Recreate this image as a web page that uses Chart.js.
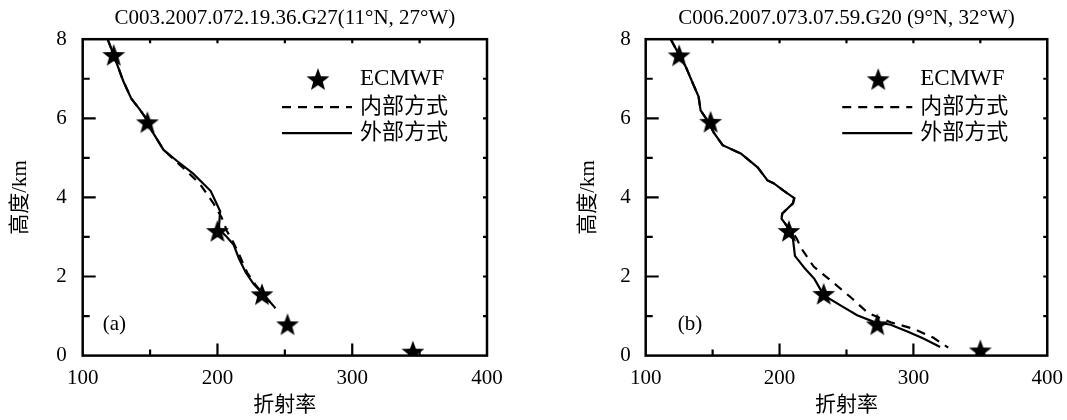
<!DOCTYPE html>
<html>
<head>
<meta charset="utf-8">
<script src="https://cdn.jsdelivr.net/npm/chart.js@4.4.1/dist/chart.umd.min.js"></script>
<style>
  html, body { margin: 0; padding: 0; background: #fff; overflow: hidden; }
  #wrap { position: relative; width: 1067px; height: 420px; overflow: hidden; }
  canvas { position: absolute; top: 0; }
</style>
</head>
<body>
<div id="wrap">
  <canvas id="chartA" width="533" height="420" style="left:0"></canvas>
  <canvas id="chartB" width="540" height="420" style="left:533px"></canvas>
</div>
<script>
// panel titles / labels
const titleA = 'C003.2007.072.19.36.G27(11°N, 27°W)';
const titleB = 'C006.2007.073.07.59.G20 (9°N, 32°W)';
const xTitle = '折射率';
const yTitle = '高度/km';
const legendNames = ['ECMWF', '内部方式', '外部方式'];

// panel (a)
const aEcmwfN = [123, 148, 200, 233, 252, 345];
const aEcmwfH = [7.6, 5.9, 3.15, 1.55, 0.79, 0.1];
const aOuterN = [118.5, 123, 130, 136, 142, 148, 151, 160, 170, 182, 195, 202, 201, 207, 212, 216, 221, 227, 234, 243];
const aOuterH = [8.0, 7.6, 6.95, 6.5, 6.24, 5.95, 5.7, 5.2, 4.92, 4.6, 4.16, 3.65, 3.2, 3.0, 2.8, 2.45, 2.1, 1.8, 1.55, 1.2];
const aInnerN = [118.5, 123, 130, 136, 142, 148, 151, 160, 168, 176, 187, 197, 203, 207, 212, 216, 222, 228, 234, 243];
const aInnerH = [8.0, 7.6, 6.95, 6.5, 6.24, 5.95, 5.7, 5.2, 4.95, 4.7, 4.34, 3.85, 3.5, 3.15, 2.85, 2.56, 2.1, 1.8, 1.55, 1.2];

// panel (b)
const bEcmwfN = [125, 148.5, 207, 233, 273, 350];
const bEcmwfH = [7.59, 5.91, 3.15, 1.56, 0.79, 0.13];
const bOuterN = [118.7, 125, 130, 135, 139.5, 141, 146, 151, 157.5, 171, 183.6, 191, 195.5, 203, 211, 210, 206, 202, 201.5, 205, 208, 210, 211.5, 219, 226, 233, 245.5, 258, 270, 283, 295.5, 307.5, 320];
const bOuterH = [8.0, 7.6, 7.3, 6.9, 6.55, 6.2, 5.95, 5.63, 5.32, 5.11, 4.76, 4.43, 4.36, 4.17, 3.98, 3.85, 3.72, 3.59, 3.46, 3.3, 3.15, 2.95, 2.52, 2.2, 1.94, 1.53, 1.27, 1.02, 0.86, 0.78, 0.61, 0.43, 0.22];
const bInnerN = [118.7, 125, 130, 135, 139.5, 141, 146, 151, 157.5, 171, 183.6, 191, 195.5, 203, 211, 210, 206, 202, 201.5, 205, 209, 213, 215.7, 225.5, 240, 254, 266, 283, 300, 315, 326];
const bInnerH = [8.0, 7.6, 7.3, 6.9, 6.55, 6.2, 5.95, 5.63, 5.32, 5.11, 4.76, 4.43, 4.36, 4.17, 3.98, 3.85, 3.72, 3.59, 3.46, 3.3, 3.15, 2.95, 2.74, 2.25, 1.85, 1.45, 1.08, 0.84, 0.68, 0.45, 0.2];

const serif = 'Liberation Serif';
const cjk = '"Liberation Serif", "Noto Sans CJK SC"';

function pairs(xs, ys) {
    return xs.map((x, i) => ({x: x, y: ys[i]}));
}

// filled five point star used as point style
function makeStar(r) {
    const c = document.createElement('canvas');
    const size = Math.ceil(r * 2) + 2;
    c.width = size;
    c.height = size;
    const ctx = c.getContext('2d');
    ctx.translate(size / 2, size / 2 + r * 0.08);
    ctx.beginPath();
    for (let i = 0; i < 10; i++) {
        const rad = i % 2 === 0 ? r : r * 0.42;
        const a = -Math.PI / 2 + i * Math.PI / 5;
        ctx.lineTo(rad * Math.cos(a), rad * Math.sin(a));
    }
    ctx.closePath();
    ctx.fillStyle = '#000';
    ctx.fill();
    return c;
}
const starImg = makeStar(12);

// frame, inward ticks, legend and panel tag
const framePlugin = {
    id: 'frame',
    afterDraw(chart, args, opts) {
        const {ctx, chartArea: ca, scales} = chart;
        const xs = scales.x, ys = scales.y;
        ctx.save();
        ctx.strokeStyle = '#000';
        ctx.lineWidth = 2.5;
        ctx.strokeRect(ca.left, ca.top, ca.right - ca.left, ca.bottom - ca.top);

        ctx.lineWidth = 2.2;
        ctx.beginPath();
        for (let v = 150; v < 400; v += 50) {
            const px = xs.getPixelForValue(v);
            const len = v % 100 === 0 ? 12 : 6;
            ctx.moveTo(px, ca.bottom); ctx.lineTo(px, ca.bottom - len);
            ctx.moveTo(px, ca.top); ctx.lineTo(px, ca.top + 4);
        }
        for (let v = 1; v < 8; v++) {
            const py = ys.getPixelForValue(v);
            const len = v % 2 === 0 ? 13 : 7;
            ctx.moveTo(ca.left, py); ctx.lineTo(ca.left + len, py);
            ctx.moveTo(ca.right, py); ctx.lineTo(ca.right - 4, py);
        }
        ctx.stroke();

        // legend
        const lx0 = ca.right - 205, lx1 = ca.right - 135, tx = ca.right - 127;
        const rows = [ca.top + 40, ca.top + 68, ca.top + 94];
        ctx.drawImage(starImg, ca.right - 169 - starImg.width / 2, rows[0] - starImg.height / 2);
        ctx.lineWidth = 2.2;
        ctx.setLineDash([9, 7]);
        ctx.beginPath(); ctx.moveTo(lx0, rows[1]); ctx.lineTo(lx1, rows[1]); ctx.stroke();
        ctx.setLineDash([]);
        ctx.beginPath(); ctx.moveTo(lx0, rows[2]); ctx.lineTo(lx1, rows[2]); ctx.stroke();
        ctx.fillStyle = '#000';
        ctx.textBaseline = 'middle';
        ctx.textAlign = 'left';
        ctx.font = '23px ' + serif;
        ctx.fillText(legendNames[0], tx, rows[0]);
        ctx.font = '22px ' + cjk;
        ctx.fillText(legendNames[1], tx, rows[1]);
        ctx.fillText(legendNames[2], tx, rows[2]);

        // (a) / (b)
        ctx.font = '21px ' + serif;
        ctx.fillText(opts.tag, ca.left + opts.tagX, ys.getPixelForValue(0.78));
        ctx.restore();
    }
};

function makeChart(id, title, ecN, ecH, inN, inH, outN, outH, pad, yPad, tag, tagX) {
    const tickFont = {family: serif, size: 21};
    return new Chart(document.getElementById(id), {
        type: 'scatter',
        data: {
            datasets: [
                {
                    label: legendNames[0],
                    data: pairs(ecN, ecH),
                    pointStyle: starImg,
                    order: 0
                },
                {
                    label: legendNames[2],
                    data: pairs(outN, outH),
                    showLine: true,
                    borderColor: '#000',
                    borderWidth: 2.2,
                    pointRadius: 0,
                    tension: 0,
                    order: 1
                },
                {
                    label: legendNames[1],
                    data: pairs(inN, inH),
                    showLine: true,
                    borderColor: '#000',
                    borderWidth: 2.2,
                    borderDash: [9, 7],
                    pointRadius: 0,
                    tension: 0,
                    order: 2
                }
            ]
        },
        options: {
            responsive: false,
            animation: false,
            devicePixelRatio: 1,
            layout: {padding: pad},
            plugins: {
                legend: {display: false},
                tooltip: {enabled: false},
                title: {
                    display: true,
                    text: title,
                    color: '#000',
                    fullSize: false,
                    font: {family: serif, size: 21, weight: 'normal'},
                    padding: {top: 6, bottom: 8}
                },
                frame: {tag: tag, tagX: tagX}
            },
            scales: {
                x: {
                    type: 'linear',
                    min: 100,
                    max: 400,
                    grid: {display: false, drawTicks: false},
                    border: {display: false},
                    ticks: {
                        stepSize: 50,
                        autoSkip: false,
                        maxRotation: 0,
                        padding: 10,
                        color: '#000',
                        font: tickFont,
                        callback: v => (v % 100 === 0 ? v : '')
                    },
                    title: {
                        display: true,
                        text: xTitle,
                        color: '#000',
                        font: {family: cjk, size: 21},
                        padding: {top: -8, bottom: 2}
                    }
                },
                y: {
                    min: 0,
                    max: 8,
                    grid: {display: false, drawTicks: false},
                    border: {display: false},
                    ticks: {
                        stepSize: 1,
                        autoSkip: false,
                        padding: yPad.tick,
                        color: '#000',
                        font: tickFont,
                        callback: v => (v % 2 === 0 ? v : '')
                    },
                    title: {
                        display: true,
                        text: yTitle,
                        color: '#000',
                        font: {family: cjk, size: 21},
                        padding: {top: 8, bottom: yPad.title}
                    }
                }
            }
        },
        plugins: [framePlugin]
    });
}

makeChart('chartA', titleA, aEcmwfN, aEcmwfH, aInnerN, aInnerH, aOuterN, aOuterH,
    {left: 0, right: 46, top: 0, bottom: 0}, {tick: 16, title: 7}, '(a)', 20);
makeChart('chartB', titleB, bEcmwfN, bEcmwfH, bInnerN, bInnerH, bOuterN, bOuterH,
    {left: 35, right: 20, top: 0, bottom: 0}, {tick: 15, title: 4}, '(b)', 32);
</script>
</body>
</html>
